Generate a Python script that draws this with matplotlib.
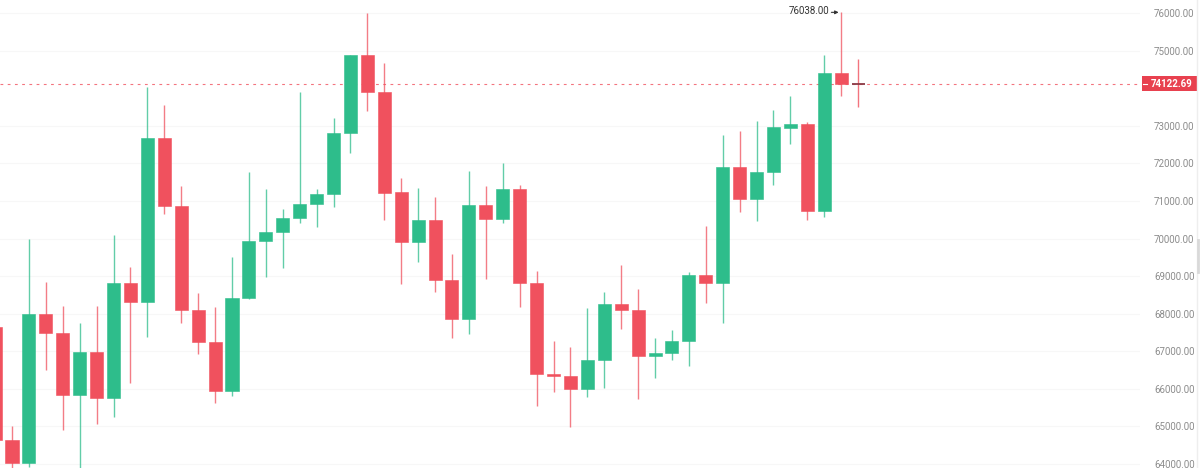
import matplotlib
matplotlib.use("Agg")
from matplotlib import pyplot as plt
from matplotlib.patches import Rectangle
from matplotlib.lines import Line2D
from matplotlib.transforms import blended_transform_factory

# daily candles (first one is cut by the left edge)
opens = [67645, 64637, 64025, 67990, 67485, 65835, 66979, 65755, 68815, 68310,
         72674, 70864, 68097, 67245, 65941, 68416, 69933, 70172, 70545, 70918,
         71184, 72807, 74882, 73898, 71237, 69906, 70492, 68895, 67857, 70891,
         70518, 71317, 68815, 66394, 66341, 65995, 66766, 68257, 68097, 66873,
         66953, 67272, 69028, 68815, 71902, 71051, 71769, 72940, 73046, 70731,
         74403, 74130]
highs = [67700, 65010, 69986, 68842, 68203, 67751, 68203, 70093, 69241, 74030,
         73552, 71396, 68549, 68177, 69507, 71769, 71317, 70784, 73900, 71317,
         73206, 74882, 76000, 74670, 71609, 71343, 71104, 69587, 71796, 71396,
         72008, 71423, 69135, 67272, 67112, 68150, 68576, 69294, 68656, 67352,
         67565, 69108, 70332, 72754, 72860, 73126, 73419, 73791, 73099, 74882,
         76038, 74776]
lows = [64500, 63840, 63919, 66500, 64903, 63840, 65063, 65249, 66154, 67378,
        70651, 67751, 66926, 65622, 65808, 68390, 68975, 69214, 70412, 70305,
        70838, 72275, 73392, 70492, 68789, 69374, 68576, 67352, 67458, 68922,
        70412, 68177, 65542, 65915, 64983, 65782, 66021, 67591, 65729, 66287,
        66766, 66607, 68283, 67751, 70705, 70465, 71423, 72514, 70492, 70572,
        73791, 73499]
closes = [64637, 64025, 67990, 67485, 65835, 66979, 65755, 68815, 68310, 72674,
          70864, 68097, 67245, 65941, 68416, 69933, 70172, 70545, 70918, 71184,
          72807, 74882, 73898, 71210, 69906, 70492, 68895, 67857, 70891, 70518,
          71317, 68815, 66394, 66341, 65995, 66766, 68257, 68097, 66873, 66953,
          67272, 69028, 68815, 71902, 71051, 71769, 72966, 73046, 70731, 74403,
          74123, 74122.69]

last_price = 74122.69
max_price = 76038.00
y_ticks = [64000, 65000, 66000, 67000, 68000, 69000, 70000, 71000, 72000,
           73000, 75000, 76000]  # 74000 sits behind the price label

green = '#2ebd8b'
red = '#f0515e'

plt.rcParams['font.family'] = ['Roboto', 'DejaVu Sans']

fig = plt.figure(figsize=(12, 4.68), dpi=100)
ax = fig.add_axes([0, 0, 1140 / 1200, 1])

body_w = 0.77
for i in range(len(opens)):
    o, h, l, c = opens[i], highs[i], lows[i], closes[i]
    col = green if c > o else red
    if abs(c - o) < 20:
        # current candle: open ~ close, just a flat line
        ax.vlines(i, l, h, color=col, linewidth=1, alpha=0.8, zorder=2)
        ax.hlines(c, i - body_w / 2, i + body_w / 2, color='#8a3a46',
                  linewidth=1.3, zorder=3)
        continue
    ax.vlines(i, l, h, color=col, linewidth=1, alpha=0.75, zorder=2)
    ax.bar(i, abs(c - o), bottom=min(o, c), width=body_w, color=col,
           edgecolor=col, linewidth=0.4, zorder=3)

ax.set_xlim(0.29, 67.66)
ax.set_ylim(63894, 76346)

# faint horizontal grid
for t in y_ticks:
    ax.axhline(t, color='#f7f7f7', linewidth=0.8, zorder=0)

# last price dashed line
ax.axhline(last_price, color=red, linewidth=0.8, linestyle=(0, (2.5, 4)),
           alpha=0.8, zorder=1)

# y tick labels on the right
ax.yaxis.tick_right()
ax.set_yticks(y_ticks)
ax.set_yticklabels([f'{t:.2f}' for t in y_ticks])
ax.tick_params(axis='y', length=0, pad=10, labelsize=7.0, labelcolor='#8c8c8c')
ax.set_xticks([])
for s in ax.spines.values():
    s.set_visible(False)

# price label box
bt = blended_transform_factory(ax.transAxes, ax.transData)
ax.add_patch(Rectangle((1.0018, last_price - 200), 0.0482, 400,
                       transform=bt, facecolor='#e8414f', edgecolor='none',
                       clip_on=False, zorder=5))
ax.plot([1.0026, 1.0062], [last_price, last_price], transform=bt,
        color='white', linewidth=0.8, clip_on=False, zorder=6)
ax.text(1.0092, last_price, f'{last_price:.2f}', transform=bt, ha='left',
        va='center', color='white', fontsize=7.0, fontweight='bold',
        zorder=6, clip_on=False)

# max marker
ax.text(49.3, max_price + 20, f'{max_price:.2f}', ha='right', va='center',
        fontsize=7.0, color='#333333')
ax.annotate('', xy=(49.85, max_price - 20), xytext=(49.42, max_price - 20),
            arrowprops=dict(arrowstyle='-|>', color='#333333', lw=0.8,
                            mutation_scale=5, shrinkA=0, shrinkB=0))

# right border and scrollbar mark
fig.add_artist(Line2D([1197 / 1200, 1197 / 1200], [0, 1], color='#eeeeee',
                      linewidth=1))
fig.add_artist(Line2D([1198 / 1200, 1198 / 1200], [1 - 240 / 468, 1 - 272 / 468],
                      color='#d9d9d9', linewidth=2))

fig.savefig('out.png', dpi=100, facecolor='white')
